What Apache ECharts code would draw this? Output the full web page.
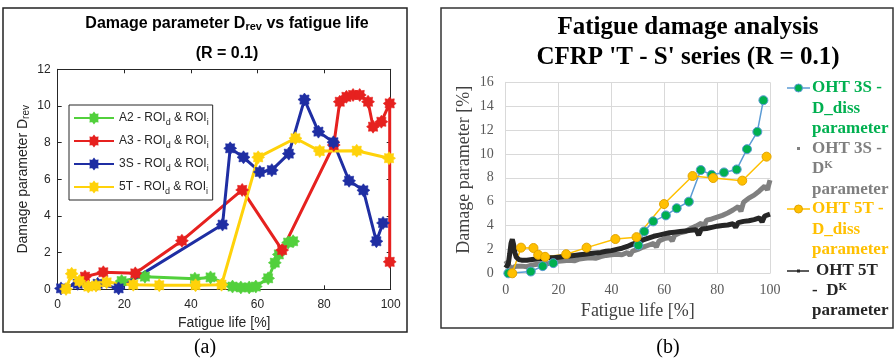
<!DOCTYPE html>
<html><head><meta charset="utf-8">
<script src="https://cdn.jsdelivr.net/npm/echarts@6/dist/echarts.min.js"></script>
<style>html,body{margin:0;padding:0;background:#fff}#c{width:894px;height:361px}</style>
</head><body><div id="c"></div>
<script>
// ---------- Panel (a) data ----------
const a2X = [19.2,26.2,41.2,45.9,52.5,55,57.5,59.5,63.2,65.2,66.4,69.2,70.7];
const a2Y = [0.45,0.69,0.58,0.65,0.15,0.1,0.1,0.15,0.6,1.45,1.9,2.55,2.62];
const a3X = [8.2,13.7,23.3,37.3,55.4,67.4,82.9,84.7,86.7,88.7,90.7,93.2,94.7,97.2,99.7,99.7];
const a3Y = [0.69,0.93,0.87,2.65,5.42,2.14,7.87,10.23,10.5,10.6,10.6,10.23,8.87,9.14,10.14,1.5];
const s3X = [1,6,12,18.3,49.5,51.8,55.8,60.7,64.3,69.4,74.1,78.3,82.8,87.5,91.8,95.7,97.7];
const s3Y = [0.05,0.3,0.3,0.05,3.53,7.69,7.2,6.4,6.5,7.4,10.35,8.6,8.02,5.92,5.4,2.62,3.62];
const t5X = [2.5,4.2,6.5,9.2,11.5,14.7,22.7,30.5,41.4,49.2,60.2,71.4,78.7,89.8,99.5];
const t5Y = [0.02,0.85,0.45,0.15,0.2,0.38,0.25,0.22,0.22,0.25,7.2,8.24,7.54,7.56,7.15];
const xTicksA = [0,20,40,60,80,100];
const yTicksA = [0,2,4,6,8,10,12];

// ---------- Panel (b) data ----------
const g3X = [1,9.5,14,18,50.2,52.4,55.8,60.6,64.7,69.3,73.8,77.9,82.6,87.4,91.3,95.2,97.5];
const g3Y = [0,0.15,0.6,0.85,2.35,3.5,4.35,4.85,5.45,6.0,8.65,8.25,8.45,8.7,10.4,11.85,14.5];
const k3X = [0,1,2,3,4,6,8,10,12,14,16,18,20,22,24,26,28,30,32,34,36,38,40,42,44,46,47,48,50,52,54,56,57,58,60,62,63,64,66,68,70,72,74,75,76,78,80,82,84,86,88,89,90,92,94,96,98,99,100];
const k3Y = [1.05,0.7,0.45,0.5,0.6,0.6,0.55,0.7,0.75,0.85,0.8,0.95,1.0,1.05,1.1,1.05,1.2,1.25,1.3,1.25,1.4,1.5,1.55,1.6,1.55,1.75,1.5,1.85,2.0,2.2,2.35,2.5,2.2,2.7,2.9,3.0,2.7,3.2,3.4,3.5,3.75,3.95,4.2,3.9,4.45,4.55,4.7,4.85,5.05,5.3,5.6,5.2,5.95,6.3,6.55,6.9,7.3,7.0,7.8];
const o5X = [2.5,5.8,10.5,12.3,14.9,22.9,30.6,41.5,49.5,59.9,70.7,78.5,89.5,98.7];
const o5Y = [0,2.15,2.12,1.55,1.38,1.6,2.15,2.87,3.03,5.8,8.15,7.98,7.76,9.77];
const k5X = [0,1,1.5,2,2.5,3,3.5,4,5,6,8,10,12,14,16,18,20,22,24,26,28,30,32,34,36,38,40,42,44,46,48,50,52,54,56,58,60,62,64,66,68,70,72,73,74,76,78,80,82,84,86,87,88,90,92,94,96,97,98,100];
const k5Y = [0.45,0.8,1.6,2.5,2.85,2.4,1.7,1.35,1.15,1.1,1.1,1.15,1.2,1.25,1.3,1.3,1.35,1.4,1.45,1.5,1.55,1.6,1.65,1.7,1.75,1.85,1.9,2.0,2.1,2.25,2.45,2.6,2.8,2.95,3.1,3.2,3.3,3.4,3.45,3.5,3.55,3.6,3.65,3.2,3.7,3.75,3.85,3.95,4.0,4.05,4.15,3.85,4.25,4.35,4.4,4.5,4.65,4.3,4.8,4.95];
const xTicksB = [0,20,40,60,80,100];
const yTicksB = [0,2,4,6,8,10,12,14,16];

const SANS = 'Liberation Sans, Arial, sans-serif';
const SERIF = 'Liberation Serif, Times New Roman, serif';
// chunky 8-armed asterisk (outer r 10, inner r 7)
const STAR = 'path://M20 10 L16.47 12.68 L17.07 17.07 L12.68 16.47 L10 20 L7.32 16.47 L2.93 17.07 L3.53 12.68 L0 10 L3.53 7.32 L2.93 2.93 L7.32 3.53 L10 0 L12.68 3.53 L17.07 2.93 L16.47 7.32 Z';
const zip = (xs, ys) => xs.map((x, i) => [x, ys[i]]);

function serA(name, xs, ys, color) {
  return {name, type:'line', xAxisIndex:0, yAxisIndex:0, data: zip(xs, ys),
    symbol: STAR, symbolSize: 13, showSymbol: true, silent: true,
    lineStyle:{color, width:3}, itemStyle:{color, borderColor:color, borderWidth:0.6},
    emphasis:{disabled:true}};
}

const chart = echarts.init(document.getElementById('c'));
const axisDark = '#262626';
const gridLight = '#d9d9d9';

const subRich = {s:{fontSize:9, fontFamily:SANS, color:axisDark, verticalAlign:'bottom', lineHeight:10}};

function legendLine(x, y, w, stroke, lw) {
  return {type:'line', shape:{x1:x, y1:y, x2:x+w, y2:y}, style:{stroke, lineWidth:lw}, silent:true};
}
function ltxt(x, y, text, fill) {
  return {type:'text', x:0, y:0, silent:true, style:{text, x, y, fill, font:'bold 17px ' + SERIF, textVerticalAlign:'middle',
    rich:{n:{fontSize:17, fontWeight:'bold', fontFamily:SERIF, fill, lineHeight:18, verticalAlign:'middle'},
          k:{fontSize:11, fontWeight:'bold', fontFamily:SERIF, fill, lineHeight:18, verticalAlign:'top'}}}};
}
const boxAxisA = {show:true, onZero:false, lineStyle:{color:axisDark, width:1}};
const tickA = {show:true, inside:true, length:4, lineStyle:{color:axisDark}};

const option = {
  animation:false,
  backgroundColor:'#fff',
  grid:[
    {left:57.7, top:69.3, width:333, height:220, outerBoundsMode:'none', containLabel:false},
    {left:505.7, top:82.3, width:264.3, height:191, outerBoundsMode:'none', containLabel:false}
  ],
  xAxis:[
    {type:'value', gridIndex:0, position:'bottom', min:xTicksA[0], max:xTicksA[xTicksA.length-1], interval:20,
     axisLine:boxAxisA, axisTick:tickA,
     splitLine:{show:false}, axisLabel:{color:axisDark, fontFamily:SANS, fontSize:12, margin:9},
     name:'Fatigue life [%]', nameLocation:'middle', nameGap:27, nameTextStyle:{color:axisDark, fontFamily:SANS, fontSize:14}},
    {type:'value', gridIndex:0, position:'top', min:0, max:100, interval:20,
     axisLine:boxAxisA, axisTick:tickA, splitLine:{show:false}, axisLabel:{show:false}},
    {type:'value', gridIndex:1, position:'bottom', min:xTicksB[0], max:xTicksB[xTicksB.length-1], interval:20,
     axisLine:{show:true, onZero:false, lineStyle:{color:gridLight, width:1}}, axisTick:{show:false},
     splitLine:{show:true, lineStyle:{color:gridLight, width:1}}, axisLabel:{color:'#595959', fontFamily:SERIF, fontSize:14, margin:10},
     name:'Fatigue life [%]', nameLocation:'middle', nameGap:29, nameTextStyle:{color:'#404040', fontFamily:SERIF, fontSize:18}}
  ],
  yAxis:[
    {type:'value', gridIndex:0, position:'left', min:yTicksA[0], max:yTicksA[yTicksA.length-1], interval:2,
     axisLine:boxAxisA, axisTick:tickA,
     splitLine:{show:false}, axisLabel:{color:axisDark, fontFamily:SANS, fontSize:12, margin:7},
     name:'Damage parameter D{s|rev}', nameLocation:'middle', nameGap:26,
     nameTextStyle:{color:axisDark, fontFamily:SANS, fontSize:14, lineHeight:18, rich:{s:{fontSize:10, fontFamily:SANS, color:axisDark, verticalAlign:'bottom', lineHeight:12}}}},
    {type:'value', gridIndex:0, position:'right', min:0, max:12, interval:2,
     axisLine:boxAxisA, axisTick:tickA, splitLine:{show:false}, axisLabel:{show:false}},
    {type:'value', gridIndex:1, position:'left', min:yTicksB[0], max:yTicksB[yTicksB.length-1], interval:2,
     axisLine:{show:true, onZero:false, lineStyle:{color:gridLight, width:1}}, axisTick:{show:false},
     splitLine:{show:true, lineStyle:{color:gridLight, width:1}}, axisLabel:{color:'#595959', fontFamily:SERIF, fontSize:14, margin:12},
     name:'Damage parameter [%]', nameLocation:'middle', nameGap:32,
     nameTextStyle:{color:'#404040', fontFamily:SERIF, fontSize:18, padding:[0,0,0,16]}}
  ],
  legend:[{
    orient:'vertical', left:69, top:105, padding:[4,4,4,4], itemGap:5, itemWidth:40, itemHeight:12,
    borderColor:axisDark, borderWidth:1, backgroundColor:'#fff', selectedMode:false,
    data:['A2','A3','3S','5T'],
    formatter: n => n + ' - ROI{s|d} & ROI{s|i}',
    textStyle:{color:axisDark, fontFamily:SANS, fontSize:12, lineHeight:18, padding:[0,0,0,0], rich:subRich}
  }],
  series:[
    serA('A2', a2X, a2Y, '#52d03c'),
    serA('A3', a3X, a3Y, '#e6211f'),
    serA('3S', s3X, s3Y, '#1f2ea3'),
    serA('5T', t5X, t5Y, '#ffd20a'),
    {name:'OHT 3S - D_diss parameter', type:'line', xAxisIndex:2, yAxisIndex:2, data:zip(g3X, g3Y), silent:true,
     symbol:'circle', symbolSize:9, lineStyle:{color:'#5b9bd5', width:1.5},
     itemStyle:{color:'#00b050', borderColor:'#5b9bd5', borderWidth:1}},
    {name:'OHT 3S - DK parameter', type:'line', xAxisIndex:2, yAxisIndex:2, data:zip(k3X, k3Y), silent:true,
     showSymbol:false, symbol:'none', lineStyle:{color:'#808080', width:5}},
    {name:'OHT 5T - D_diss parameter', type:'line', xAxisIndex:2, yAxisIndex:2, data:zip(o5X, o5Y), silent:true,
     symbol:'circle', symbolSize:9, lineStyle:{color:'#ffc000', width:1.5},
     itemStyle:{color:'#ffc000', borderColor:'#e3a400', borderWidth:1}},
    {name:'OHT 5T - DK parameter', type:'line', xAxisIndex:2, yAxisIndex:2, data:zip(k5X, k5Y), silent:true,
     showSymbol:false, symbol:'none', lineStyle:{color:'#262626', width:5}}
  ],
  graphic:[
    {type:'rect', shape:{x:3, y:8, width:404, height:324}, style:{fill:'none', stroke:'#222', lineWidth:1.5}, silent:true},
    {type:'rect', shape:{x:441, y:8, width:452, height:320}, style:{fill:'none', stroke:'#333', lineWidth:1.5}, silent:true},
    {type:'text', silent:true, style:{text:'Damage parameter D{s|rev} vs fatigue life', x:227, y:24, textAlign:'center', textVerticalAlign:'middle',
      font:'bold 16px ' + SANS, fill:'#000',
      rich:{s:{fontSize:11, fontWeight:'bold', fontFamily:SANS, fill:'#000', verticalAlign:'bottom', lineHeight:12}}}},
    {type:'text', silent:true, style:{text:'(R = 0.1)', x:227, y:54, textAlign:'center', textVerticalAlign:'middle', font:'bold 16px ' + SANS, fill:'#000'}},
    {type:'text', silent:true, style:{text:'Fatigue damage analysis', x:688, y:28, textAlign:'center', textVerticalAlign:'middle', font:'bold 25px ' + SERIF, fill:'#000'}},
    {type:'text', silent:true, style:{text:"CFRP 'T - S' series (R = 0.1)", x:688, y:58, textAlign:'center', textVerticalAlign:'middle', font:'bold 25px ' + SERIF, fill:'#000'}},
    {type:'text', silent:true, style:{text:'(a)', x:205, y:348, textAlign:'center', textVerticalAlign:'middle', font:'20px ' + SERIF, fill:'#000'}},
    {type:'text', silent:true, style:{text:'(b)', x:668, y:348, textAlign:'center', textVerticalAlign:'middle', font:'20px ' + SERIF, fill:'#000'}},
    // legend (b)
    legendLine(787, 88, 23, '#5b9bd5', 1.5),
    {type:'circle', shape:{cx:798.5, cy:88, r:4}, style:{fill:'#00b050', stroke:'#5b9bd5', lineWidth:1}, silent:true},
    ltxt(812, 88, 'OHT 3S -', '#00b050'),
    ltxt(812, 109, 'D_diss', '#00b050'),
    ltxt(812, 129, 'parameter', '#00b050'),
    {type:'rect', shape:{x:797, y:147, width:3, height:3}, style:{fill:'#808080'}, silent:true},
    ltxt(812, 149, 'OHT 3S -', '#7f7f7f'),
    ltxt(812, 169, '{n|D}{k|K}', '#7f7f7f'),
    ltxt(812, 190, 'parameter', '#7f7f7f'),
    legendLine(787, 209, 23, '#ffc000', 1.5),
    {type:'circle', shape:{cx:798.5, cy:209, r:4}, style:{fill:'#ffc000', stroke:'#e3a400', lineWidth:1}, silent:true},
    ltxt(812, 209, 'OHT 5T -', '#ffc000'),
    ltxt(812, 230, 'D_diss', '#ffc000'),
    ltxt(812, 250, 'parameter', '#ffc000'),
    legendLine(787, 271, 22, '#262626', 1.5),
    {type:'rect', shape:{x:797, y:269.5, width:3, height:3}, style:{fill:'#262626'}, silent:true},
    ltxt(816, 271, 'OHT 5T', '#262626'),
    ltxt(812, 291, '{n|-  D}{k|K}', '#262626'),
    ltxt(812, 311, 'parameter', '#262626')
  ]
};
chart.setOption(option);
</script></body></html>
